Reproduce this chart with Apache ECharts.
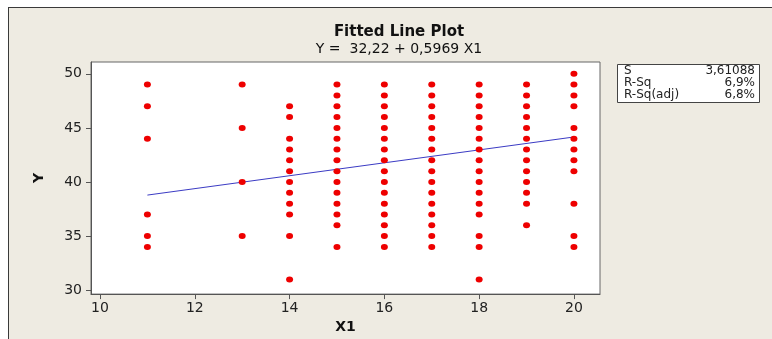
<!DOCTYPE html>
<html>
<head>
<meta charset="utf-8">
<script src="https://cdn.jsdelivr.net/npm/echarts@6/dist/echarts.min.js"></script>
<style>
html,body{margin:0;padding:0;background:#fff;}
#wrap{position:relative;width:772px;height:339px;overflow:hidden;}
#frame{position:absolute;left:8px;top:7px;width:800px;height:400px;background:#EEEBE2;border-top:1px solid #3a3a3a;border-left:1px solid #3a3a3a;}
#chart{position:absolute;left:0;top:0;width:772px;height:339px;}
</style>
</head>
<body>
<div id="wrap"><div id="frame"></div><div id="chart"></div></div>
<script>
// ---- data ----
const xTicks = [10, 12, 14, 16, 18, 20];
const yTicks = [30, 35, 40, 45, 50];
const xColumns = [11, 13, 14, 15, 16, 17, 18, 19, 20];
const y11 = [49, 47, 44, 37, 35, 34];
const y13 = [49, 45, 40, 35];
const y14 = [47, 46, 44, 43, 42, 41, 40, 39, 38, 37, 35, 31];
const y15 = [49, 48, 47, 46, 45, 44, 43, 42, 41, 40, 39, 38, 37, 36, 34];
const y16 = [49, 48, 47, 46, 45, 44, 43, 42, 41, 40, 39, 38, 37, 36, 35, 34];
const y17 = [49, 48, 47, 46, 45, 44, 43, 42, 41, 40, 39, 38, 37, 36, 35, 34];
const y18 = [49, 48, 47, 46, 45, 44, 43, 42, 41, 40, 39, 38, 37, 35, 34, 31];
const y19 = [49, 48, 47, 46, 45, 44, 43, 42, 41, 40, 39, 38, 36];
const y20 = [50, 49, 48, 47, 45, 44, 43, 42, 41, 38, 35, 34];
const yColumns = [y11, y13, y14, y15, y16, y17, y18, y19, y20];
const fitX = [11, 20];
const fitY = [38.79, 44.16];
const statLabels = ['S', 'R-Sq', 'R-Sq(adj)'];
const statValues = ['3,61088', '6,9%', '6,8%'];
const titleText = 'Fitted Line Plot';
const subtitleText = 'Y =  32,22 + 0,5969 X1';

// ---- build ----
const points = [];
xColumns.forEach((x, i) => yColumns[i].forEach(y => points.push([x, y])));
const fitLine = fitX.map((x, i) => [x, fitY[i]]);

const FONT = '"DejaVu Sans"';
const statGraphics = [{
  type: 'rect', left: 617, top: 64,
  shape: {width: 142, height: 38},
  style: {fill: '#fff', stroke: '#444', lineWidth: 1}
}];
statLabels.forEach((lab, i) => {
  statGraphics.push({type: 'text', x: 624, y: 71 + i * 12,
    style: {text: lab, font: '12px ' + FONT, fill: '#222', textAlign: 'left', textVerticalAlign: 'middle'}});
  statGraphics.push({type: 'text', x: 755, y: 71 + i * 12,
    style: {text: statValues[i], font: '12px ' + FONT, fill: '#222', textAlign: 'right', textVerticalAlign: 'middle'}});
});

const chart = echarts.init(document.getElementById('chart'), null, {renderer: 'canvas'});
chart.setOption({
  backgroundColor: 'transparent',
  animation: false,
  title: {
    text: titleText, subtext: subtitleText,
    left: 394, top: 20, textAlign: 'center', itemGap: 2,
    textStyle: {fontFamily: 'DejaVu Sans', fontWeight: 'bold', fontSize: 15, color: '#111'},
    subtextStyle: {fontFamily: 'DejaVu Sans', fontSize: 14, color: '#111'}
  },
  grid: {left: 91, top: 62, right: 172, bottom: 41, show: true,
    backgroundColor: '#fff', borderColor: '#666', borderWidth: 1},
  xAxis: {
    type: 'value', min: 9.81, max: 20.55,
    name: 'X1', nameLocation: 'middle', nameGap: 20,
    nameTextStyle: {fontFamily: 'DejaVu Sans', fontWeight: 'bold', fontSize: 14, color: '#111'},
    axisLine: {show: true, onZero: false, lineStyle: {color: '#555'}},
    axisTick: {show: true, length: 5, customValues: xTicks, lineStyle: {color: '#555'}},
    axisLabel: {customValues: xTicks, margin: 7, fontFamily: 'DejaVu Sans', fontSize: 14, color: '#222'},
    splitLine: {show: false}
  },
  yAxis: {
    type: 'value', min: 29.64, max: 51.09,
    name: 'Y', nameLocation: 'middle', nameGap: 45, nameRotate: 90,
    nameTextStyle: {fontFamily: 'DejaVu Sans', fontWeight: 'bold', fontSize: 14, color: '#111'},
    axisLine: {show: true, onZero: false, lineStyle: {color: '#555'}},
    axisTick: {show: true, length: 5, customValues: yTicks, lineStyle: {color: '#555'}},
    axisLabel: {customValues: yTicks, margin: 9, fontFamily: 'DejaVu Sans', fontSize: 14, color: '#222'},
    splitLine: {show: false}
  },
  graphic: statGraphics,
  series: [
    {type: 'scatter', data: points, symbol: 'circle', symbolSize: [7, 6],
      itemStyle: {color: '#ee0000', opacity: 1}, z: 3},
    {type: 'line', data: fitLine, showSymbol: false, symbol: 'none',
      lineStyle: {color: '#3b3bc4', width: 1}, z: 2}
  ]
});
</script>
</body>
</html>
